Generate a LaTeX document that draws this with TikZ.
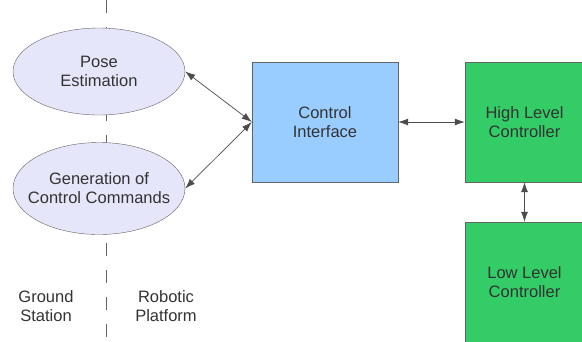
\documentclass[tikz,border=0pt]{standalone}
\usepackage{fontspec}
\setmainfont{Liberation Sans}
\usepackage{tikz}
\usetikzlibrary{shapes.geometric}
\usetikzlibrary{arrows.meta}
\usepackage{xcolor}
\definecolor{lavender}{RGB}{230,230,250}
\definecolor{skyblue}{RGB}{153,204,255}
\definecolor{ctrlgreen}{RGB}{51,204,102}
\definecolor{textgray}{RGB}{51,51,51}
\definecolor{edgegray}{RGB}{100,100,100}

\begin{document}
\begin{tikzpicture}[x=1pt,y=-1pt,>={Latex[length=10pt,width=7pt]},
  font=\fontsize{16.5}{19}\selectfont,text=textgray,
  task/.style={ellipse,draw=edgegray,fill=lavender,minimum width=172pt,
    minimum height=88pt,inner xsep=-12pt,inner ysep=0pt,align=center},
  block/.style={draw=edgegray,minimum height=120pt,inner sep=0pt,align=center},
  link/.style={<->,draw=black!70,line width=0.7pt}]
  \useasboundingbox (0,0) rectangle (582,341);
  \draw[edgegray,line width=0.8pt,dash pattern=on 13pt off 14pt] (106,0) -- (106,341);
  \node[task,minimum height=87pt] (pose) at (99,71.5) {Pose\\Estimation};
  \node[task,minimum height=92pt] (gen) at (99,188.5) {Generation of\\Control Commands};
  \node[block,fill=skyblue,minimum width=146pt] (ci) at (325,122) {Control\\Interface};
  \node[block,fill=ctrlgreen,minimum width=119pt] (hlc) at (524.5,122) {High Level\\Controller};
  \node[block,fill=ctrlgreen,minimum width=119pt] (llc) at (524.5,282) {Low Level\\Controller};
  \draw[link] (pose.east) -- (ci.west);
  \draw[link] (gen.east) -- (ci.west);
  \draw[link] (ci) -- (hlc);
  \draw[link] (hlc) -- (llc);
  \node[align=center] (ground) at (46,306) {Ground\\Station};
  \node[align=center] (robot) at (166,306) {Robotic\\Platform};
\end{tikzpicture}
\end{document}
